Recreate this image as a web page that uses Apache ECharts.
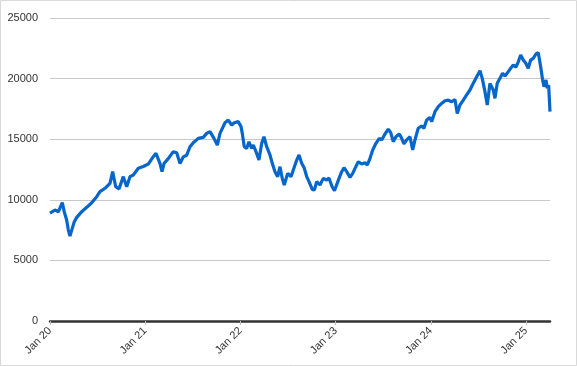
<!DOCTYPE html>
<html>
<head>
<meta charset="utf-8">
<script src="https://cdn.jsdelivr.net/npm/echarts@6/dist/echarts.min.js"></script>
<style>html,body{margin:0;padding:0;background:#fff}#c{width:577px;height:366px}</style>
</head>
<body>
<div id="c"></div>
<script>
// x values: months since Jan 2020
var monthsSinceJan2020 = [
0.00,0.63,1.05,1.55,1.80,2.10,2.31,2.52,2.74,3.06,3.37,4.00,4.63,5.26,5.89,6.30,6.93,7.56,7.90,8.28,8.70,9.24,9.67,10.08,10.50,11.13,11.34,11.76,
12.39,13.02,13.36,13.87,14.12,14.37,14.91,15.54,15.97,16.39,16.80,17.23,17.65,18.06,18.69,19.32,19.75,20.17,20.67,21.09,21.43,22.06,22.47,22.90,23.23,23.73,23.95,
24.08,24.24,24.49,24.79,25.08,25.42,25.63,26.05,26.34,26.69,26.97,27.32,27.73,28.02,28.36,28.70,28.99,29.28,29.53,29.96,30.38,30.67,31.10,31.39,31.73,32.06,32.36,32.65,33.06,33.32,33.62,34.03,34.45,34.88,35.17,35.55,35.86,
36.34,36.77,37.06,37.40,37.82,38.16,38.45,38.86,39.29,39.71,40.00,40.34,40.68,41.09,41.51,41.81,42.23,42.64,42.95,43.27,43.61,44.03,44.33,44.62,44.96,45.38,45.72,46.01,46.42,46.85,47.14,47.48,47.90,
48.11,48.53,48.95,49.37,49.79,50.21,50.63,51.05,51.34,51.68,52.10,52.52,52.94,53.36,53.79,54.20,54.49,54.83,55.12,55.46,55.88,56.09,56.38,56.72,57.06,57.35,57.77,58.07,58.40,58.74,59.03,59.33,59.66,
60.00,60.29,60.59,60.92,61.26,61.55,61.85,62.10,62.27,62.52,62.68,62.86,63.03
];
var indexValues = [
8900,9160,9000,9760,9000,8330,7500,7010,7500,8190,8550,9020,9380,9760,10260,10670,10950,11360,12320,11080,10900,11910,11080,11910,12050,12600,12700,12750,
12950,13560,13830,12990,12320,12990,13400,13970,13880,12990,13540,13680,14380,14710,15070,15150,15480,15620,15070,14520,15480,16360,16580,16170,16360,16450,16310,
16040,15480,14380,14240,14790,14240,14520,13830,13280,14660,15200,14380,13700,13010,12320,11910,12730,11770,11220,12180,11910,12460,13280,13700,13010,12600,11910,11500,10860,10800,11500,11220,11770,11630,11800,11100,10750,
11600,12320,12650,12320,11850,12180,12590,13140,12950,13060,12870,13420,14110,14660,15070,14940,15430,15820,15540,14800,15200,15430,15070,14610,14940,15200,14110,14940,15900,16090,15900,16580,16800,
16450,17270,17680,17950,18170,18220,18090,18280,17130,17820,18220,18650,19060,19610,20160,20650,20020,18920,17820,19600,19060,18370,19610,20020,20440,20220,20570,20850,21120,20940,21390,21950,21530,
21250,20850,21530,21670,22030,22140,20990,19880,19330,19880,19200,19470,17270
];
var yearLabels = ['Jan 20','Jan 21','Jan 22','Jan 23','Jan 24','Jan 25'];
var yTicks = [0,5000,10000,15000,20000,25000];

var data = monthsSinceJan2020.map(function(m,i){return [m, indexValues[i]];});
var chart = echarts.init(document.getElementById('c'), null, {renderer:'canvas'});
chart.setOption({
  animation:false,
  backgroundColor:'#fff',
  graphic:[{type:'rect',shape:{x:0.5,y:0.5,width:576,height:365},style:{fill:'none',stroke:'#d9d9d9',lineWidth:1},z:-1}],
  grid:{left:50,right:27,top:18,bottom:45,containLabel:false},
  xAxis:{
    type:'value',min:0,max:63.03,interval:12,
    axisLine:{show:true,lineStyle:{color:'#333',width:2.5}},
    axisTick:{show:true,length:4,lineStyle:{color:'#bfbfbf'}},
    splitLine:{show:false},
    axisLabel:{rotate:45,color:'#333',fontSize:11,fontFamily:'Liberation Sans, Arial',margin:8,
      showMaxLabel:false,
      formatter:function(v){var i=Math.round(v/12);return yearLabels[i]||'';}}
  },
  yAxis:{
    type:'value',min:yTicks[0],max:yTicks[yTicks.length-1],interval:5000,
    axisLine:{show:false},axisTick:{show:false},
    splitLine:{lineStyle:{color:'#c8c8c8',width:1}},
    axisLabel:{color:'#333',fontSize:11,fontFamily:'Liberation Sans, Arial',margin:12,
      formatter:function(v){return String(v);}}
  },
  series:[{type:'line',data:data,showSymbol:false,symbol:'none',
    lineStyle:{color:'#0666cc',width:3.2},z:3}]
});
</script>
</body>
</html>
